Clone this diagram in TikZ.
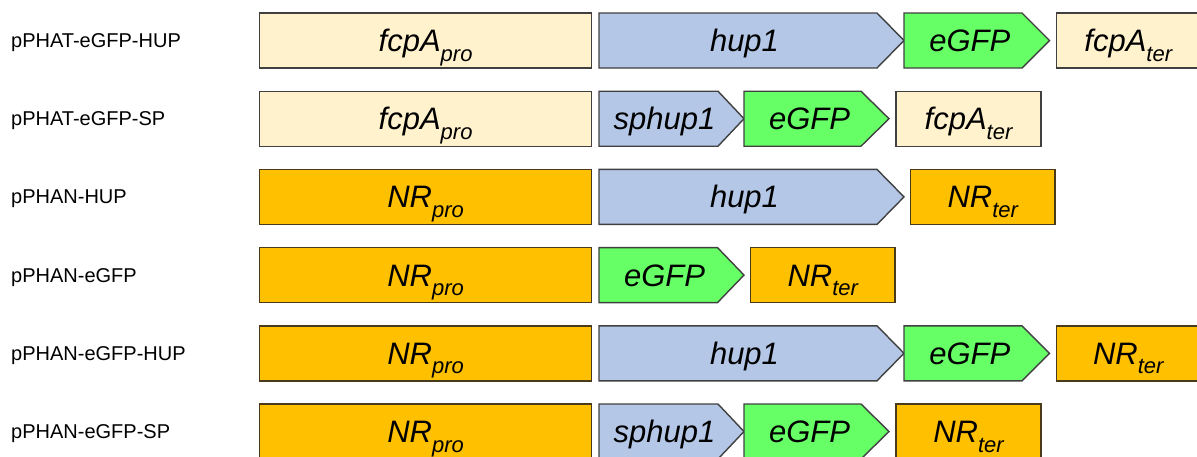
\documentclass[tikz,border=0pt]{standalone}
\usepackage{fontspec}
\setmainfont{Liberation Sans}
\definecolor{beige}{HTML}{FFF2CC}
\definecolor{orng}{HTML}{FFC000}
\definecolor{blu}{HTML}{B4C7E7}
\definecolor{grn}{HTML}{66FF66}
\definecolor{edgegray}{HTML}{404040}
\definecolor{edgebrown}{HTML}{4A3A1A}
\tikzset{
  part/.style={draw=edgegray, line width=1.4pt, line join=miter},
  fcpbox/.style={part, fill=beige},
  nrbox/.style={part, draw=edgebrown, fill=orng},
  hupbox/.style={part, fill=blu},
  gfpbox/.style={part, fill=grn},
  lbl/.style={anchor=base west, font=\fontsize{20}{20}\selectfont, inner sep=0pt},
  gtext/.style={anchor=base, font=\fontsize{31}{31}\selectfont\itshape, inner sep=0pt},
}
\newcommand{\gsub}[1]{\raisebox{-9.5pt}{\fontsize{22}{22}\selectfont #1}}
% name, x0, x1, top, style, text
\newcommand{\grect}[6]{%
  \draw[#5] (#2,#4) rectangle (#3,#4+55);
  \node[gtext] (#1) at ({(#2+#3)/2},#4+27.5+11) {#6};}
% name, x0, x1 (end of body), x2 (tip), top, style, text
\newcommand{\gchev}[7]{%
  \draw[#6] (#2,#5) -- (#3,#5) -- (#4,#5+27.5) -- (#3,#5+55) -- (#2,#5+55) -- cycle;
  \node[gtext] (#1) at ({(#2+#4)/2-7},#5+27.5+11) {#7};}
\begin{document}
\begin{tikzpicture}[x=1pt,y=-1pt]
\useasboundingbox (0,0) rectangle (1197,456);
\clip (0,0) rectangle (1197,456);
% row 1
\node[lbl] (l1) at (11,13+27.5+7) {pPHAT-eGFP-HUP};
\grect{p1}{259.5}{591.7}{13}{fcpbox}{fcpA\gsub{pro}}
\gchev{h1}{599}{877}{904}{13}{hupbox}{hup1}
\gchev{g1}{904}{1022}{1049.5}{13}{gfpbox}{eGFP}
\grect{t1}{1056.5}{1200}{13}{fcpbox}{fcpA\gsub{ter}}
% row 2
\node[lbl] (l2) at (11,91.2+27.5+7) {pPHAT-eGFP-SP};
\grect{p2}{259.5}{591.7}{91.2}{fcpbox}{fcpA\gsub{pro}}
\gchev{s2}{599}{718}{744}{91.2}{hupbox}{sphup1}
\gchev{g2}{744}{861}{889}{91.2}{gfpbox}{eGFP}
\grect{t2}{896}{1041}{91.2}{fcpbox}{fcpA\gsub{ter}}
% row 3
\node[lbl] (l3) at (11,169.4+27.5+7) {pPHAN-HUP};
\grect{p3}{259.5}{591.7}{169.4}{nrbox}{NR\gsub{pro}}
\gchev{h3}{599}{877}{904}{169.4}{hupbox}{hup1}
\grect{t3}{910.5}{1055}{169.4}{nrbox}{NR\gsub{ter}}
% row 4
\node[lbl] (l4) at (11,247.6+27.5+7) {pPHAN-eGFP};
\grect{p4}{259.5}{591.7}{247.6}{nrbox}{NR\gsub{pro}}
\gchev{g4}{599}{717.5}{744}{247.6}{gfpbox}{eGFP}
\grect{t4}{750.5}{895}{247.6}{nrbox}{NR\gsub{ter}}
% row 5
\node[lbl] (l5) at (11,325.8+27.5+7) {pPHAN-eGFP-HUP};
\grect{p5}{259.5}{591.7}{325.8}{nrbox}{NR\gsub{pro}}
\gchev{h5}{599}{877}{904}{325.8}{hupbox}{hup1}
\gchev{g5}{904}{1022}{1049.5}{325.8}{gfpbox}{eGFP}
\grect{t5}{1056.5}{1200}{325.8}{nrbox}{NR\gsub{ter}}
% row 6
\node[lbl] (l6) at (11,404+27.5+7) {pPHAN-eGFP-SP};
\grect{p6}{259.5}{591.7}{404}{nrbox}{NR\gsub{pro}}
\gchev{s6}{599}{718}{744}{404}{hupbox}{sphup1}
\gchev{g6}{744}{861}{889}{404}{gfpbox}{eGFP}
\grect{t6}{896}{1041}{404}{nrbox}{NR\gsub{ter}}
\end{tikzpicture}
\end{document}
